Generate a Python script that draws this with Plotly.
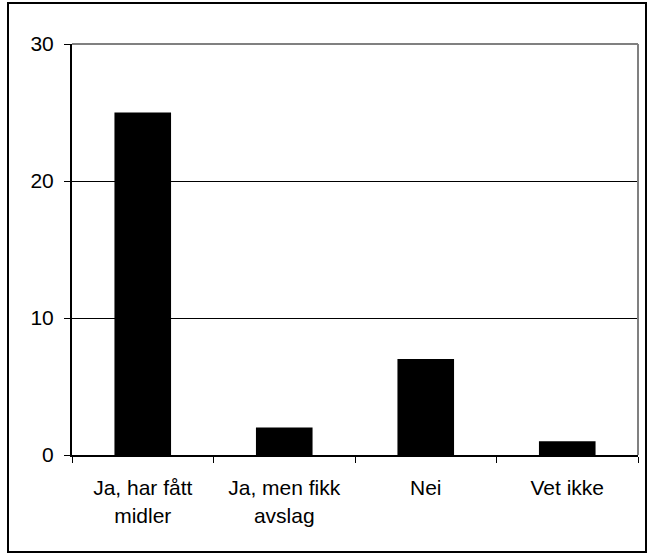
import plotly.graph_objects as go

categories = ["Ja, har fått<br>midler", "Ja, men fikk<br>avslag", "Nei", "Vet ikke"]
values = [25, 2, 7, 1]
y_ticks = [0, 10, 20, 30]
grid_values = [10, 20]

fig = go.Figure(go.Bar(x=categories, y=values, marker=dict(color="black", line=dict(width=0)), width=0.4))

L, R, T, B = 72, 11, 44, 101
W, H = 649, 556
pw, ph = W - L - R, H - T - B

def px(x):
    return (x - L) / pw

def py(y):
    return (H - B - y) / ph

fig.update_layout(
    width=W, height=H,
    margin=dict(l=L, r=R, t=T, b=B),
    paper_bgcolor="white", plot_bgcolor="white",
    font=dict(family="Liberation Sans, Arial, sans-serif", size=21, color="black"),
    showlegend=False,
)
fig.update_xaxes(
    type="category", showline=True, linecolor="black", linewidth=2,
    ticks="outside", tickson="boundaries", ticklen=6, tickcolor="black", tickwidth=1,
    showgrid=False, ticklabelstandoff=13, tickfont=dict(size=21),
)
fig.update_yaxes(
    range=[0, 30], tickvals=y_ticks, showline=True, linecolor="black", linewidth=2,
    ticks="outside", ticklen=6, tickcolor="black", tickwidth=1,
    showgrid=False, zeroline=False,
    ticklabelstandoff=6, tickfont=dict(size=21),
    minor=dict(tickvals=grid_values, showgrid=True, gridcolor="black", gridwidth=1, ticks=""),
)
# grey plot-area border top and right
fig.add_shape(type="line", xref="paper", yref="paper", x0=0, x1=1, y0=1, y1=1,
              line=dict(color="#808080", width=2), layer="above")
fig.add_shape(type="line", xref="paper", yref="paper", x0=1, x1=1, y0=0, y1=1,
              line=dict(color="#808080", width=2), layer="above")
# outer chart border
fig.add_shape(type="rect", xref="paper", yref="paper",
              x0=px(8), x1=px(646), y0=py(552), y1=py(3),
              line=dict(color="black", width=2), layer="above")

fig.write_html("out.html", config={"displayModeBar": False},
               post_script="document.body.style.margin='0';document.body.style.overflow='hidden';")
